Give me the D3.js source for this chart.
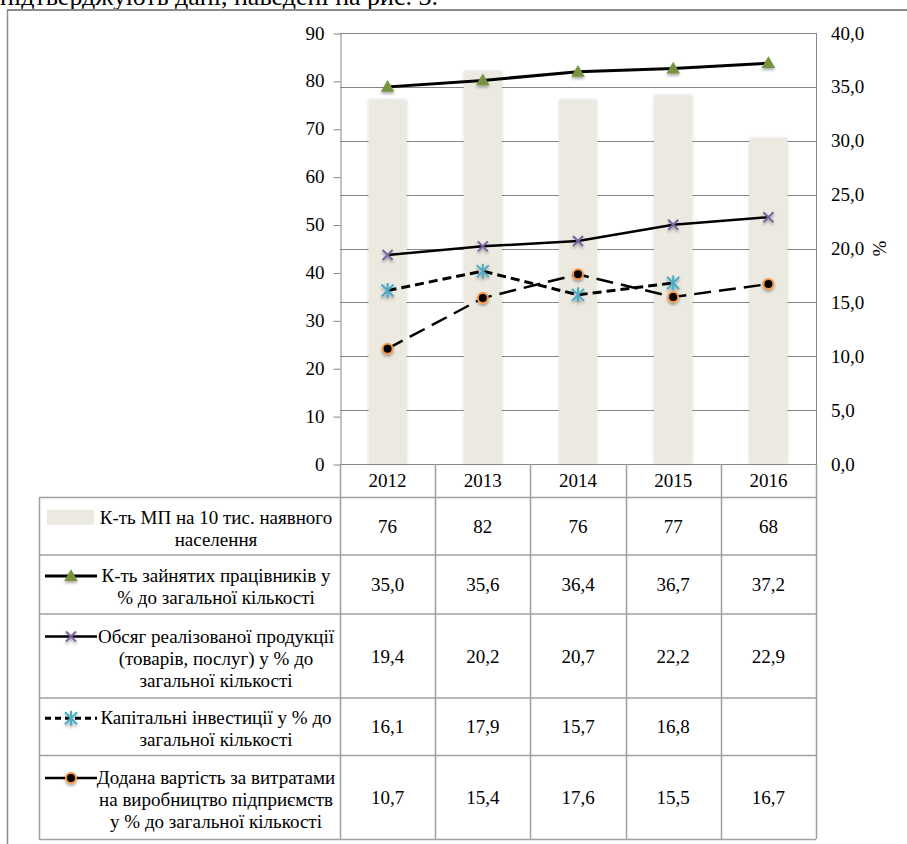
<!DOCTYPE html>
<html>
<head>
<meta charset="utf-8">
<script src="https://cdn.jsdelivr.net/npm/d3@7"></script>
</head>
<body style="margin:0">
<div id="chart"></div>
<script>
// chart values
var years = ["2012", "2013", "2014", "2015", "2016"];
var firms = [76, 82, 76, 77, 68];                       // left axis, bars
var employees = [35.0, 35.6, 36.4, 36.7, 37.2];         // right axis
var sales = [19.4, 20.2, 20.7, 22.2, 22.9];
var capital = [16.1, 17.9, 15.7, 16.8, null];
var addedValue = [10.7, 15.4, 17.6, 15.5, 16.7];
var leftTicks = [0, 10, 20, 30, 40, 50, 60, 70, 80, 90];
var rightTicks = [0, 5, 10, 15, 20, 25, 30, 35, 40];

var labelFirms = ["К-ть МП на 10 тис. наявного", "населення"];
var labelEmployees = ["К-ть зайнятих працівників у", "% до загальної кількості"];
var labelSales = ["Обсяг реалізованої продукції", "(товарів, послуг) у % до", "загальної кількості"];
var labelCapital = ["Капітальні інвестиції у % до", "загальної кількості"];
var labelAdded = ["Додана вартість за витратами", "на виробництво підприємств", "у % до загальної кількості"];

function display() {
    var width = 907,
        height = 844;

    var plotLeft = 340, plotRight = 816, plotTop = 33, plotBottom = 464;
    var tableLeft = 39, tableTop = 497;
    var rowHeights = [57.5, 59, 84, 57.5, 84];

    var svg = d3.select('#chart').append('svg')
        .attr('width', width)
        .attr('height', height)
        .attr('font-family', 'Liberation Serif');

    var defs = svg.append('defs');
    defs.append('filter').attr('id', 'shadow')
        .attr('x', '-50%').attr('y', '-50%').attr('width', '200%').attr('height', '200%')
        .append('feDropShadow')
        .attr('dx', 0).attr('dy', 2).attr('stdDeviation', 1.4)
        .attr('flood-color', '#000').attr('flood-opacity', 0.35);
    defs.append('filter').attr('id', 'barshadow')
        .attr('x', '-20%').attr('y', '-5%').attr('width', '140%').attr('height', '110%')
        .append('feDropShadow')
        .attr('dx', 0).attr('dy', 0).attr('stdDeviation', 1.5)
        .attr('flood-color', '#000').attr('flood-opacity', 0.18);

    // single family name, no text measuring while building
    function txt(sel, size) {
        return sel.attr('font-family', null)
            .style('font-family', '"Liberation Serif"')
            .style('font-size', size + 'px')
            .attr('fill', '#000');
    }

    // text of the page above the figure, cut by the top edge
    txt(svg.append('text')
        .attr('x', 0).attr('y', 5), 26)
        .text('підтверджують дані, наведені на рис. 3.');

    // frame around the figure
    svg.append('line')
        .attr('x1', 7).attr('x2', width).attr('y1', 10).attr('y2', 10)
        .attr('stroke', '#8c8c8c').attr('stroke-width', 2);
    svg.append('line')
        .attr('x1', 7.5).attr('x2', 7.5).attr('y1', 10).attr('y2', height)
        .attr('stroke', '#8c8c8c').attr('stroke-width', 1.5);

    var x = d3.scaleBand().domain(years).range([plotLeft, plotRight]);
    var yLeft = d3.scaleLinear().domain([0, 90]).range([plotBottom, plotTop]);
    var yRight = d3.scaleLinear().domain([0, 40]).range([plotBottom, plotTop]);

    // gridlines follow the right axis
    svg.append('g').selectAll('line.grid')
        .data(rightTicks.filter(function(d) { return d > 0; }))
        .enter().append('line')
        .attr('class', 'grid')
        .attr('x1', plotLeft).attr('x2', plotRight)
        .attr('y1', function(d) { return Math.round(yRight(d)) + 0.5; })
        .attr('y2', function(d) { return Math.round(yRight(d)) + 0.5; })
        .attr('stroke', '#868686').attr('stroke-width', 1);

    // bars
    var barW = x.bandwidth() * 0.4;
    svg.append('g').selectAll('rect.bar')
        .data(firms)
        .enter().append('rect')
        .attr('class', 'bar')
        .attr('x', function(d, i) { return x(years[i]) + (x.bandwidth() - barW) / 2; })
        .attr('y', function(d) { return yLeft(d); })
        .attr('width', barW)
        .attr('height', function(d) { return plotBottom - yLeft(d); })
        .attr('fill', '#ECEAE0')
        .attr('filter', 'url(#barshadow)');

    // plot border right side
    svg.append('line')
        .attr('x1', plotRight + 0.5).attr('x2', plotRight + 0.5)
        .attr('y1', plotTop).attr('y2', plotBottom)
        .attr('stroke', '#868686');

    // left axis
    var axisL = svg.append('g')
        .attr('transform', 'translate(' + (plotLeft + 0.5) + ',0)')
        .call(d3.axisLeft(yLeft).tickValues(leftTicks).tickSize(7).tickSizeOuter(0).tickPadding(9));
    axisL.attr('font-family', 'Liberation Serif').attr('font-size', 19);
    axisL.select('.domain').attr('stroke', '#868686');
    axisL.selectAll('.tick line').attr('stroke', '#868686')
        .attr('transform', 'translate(0,0.5)');
    txt(axisL.selectAll('.tick text'), 19);

    // right axis
    var axisR = svg.append('g')
        .attr('transform', 'translate(' + plotRight + ',0)')
        .call(d3.axisRight(yRight).tickValues(rightTicks).tickSize(0).tickPadding(15)
            .tickFormat(function(d) { return d.toFixed(1).replace('.', ','); }));
    axisR.attr('font-family', 'Liberation Serif').attr('font-size', 19);
    axisR.select('.domain').remove();
    txt(axisR.selectAll('.tick text'), 19);

    txt(svg.append('text')
        .attr('transform', 'translate(886,' + yRight(20) + ') rotate(-90)')
        .attr('text-anchor', 'middle'), 19)
        .text('%');

    // lines
    function cx(i) { return x(years[i]) + x.bandwidth() / 2; }

    var lineGen = d3.line()
        .defined(function(d) { return d != null; })
        .x(function(d, i) { return cx(i); })
        .y(function(d) { return yRight(d); });

    var series = [
        { values: employees, width: 3, dash: null, keyDash: null, marker: 'triangle' },
        { values: sales, width: 2.5, dash: null, keyDash: null, marker: 'cross' },
        { values: capital, width: 3, dash: '9,5', keyDash: '6,4', marker: 'star' },
        { values: addedValue, width: 2.5, dash: '17,8', keyDash: null, marker: 'circle' }
    ];

    function drawMarker(g, type, px, py) {
        if (type === 'triangle') {
            g.append('path')
                .attr('d', d3.symbol().type(d3.symbolTriangle).size(80)())
                .attr('transform', 'translate(' + px + ',' + (py + 1) + ')')
                .attr('fill', '#77933C')
                .attr('filter', 'url(#shadow)');
        } else if (type === 'cross') {
            g.append('path')
                .attr('d', 'M-5,-5L5,5M-5,5L5,-5')
                .attr('transform', 'translate(' + px + ',' + py + ')')
                .attr('stroke', '#7B63A0').attr('stroke-width', 2).attr('fill', 'none')
                .attr('filter', 'url(#shadow)');
        } else if (type === 'star') {
            g.append('path')
                .attr('d', 'M-6,-6L6,6M-6,6L6,-6M0,-7.5L0,7.5')
                .attr('transform', 'translate(' + px + ',' + py + ')')
                .attr('stroke', '#4BACC6').attr('stroke-width', 2).attr('fill', 'none')
                .attr('filter', 'url(#shadow)');
        } else {
            g.append('circle')
                .attr('cx', px).attr('cy', py).attr('r', 5)
                .attr('fill', '#000')
                .attr('stroke', '#F79646').attr('stroke-width', 2)
                .attr('filter', 'url(#shadow)');
        }
    }

    series.forEach(function(s) {
        svg.append('path')
            .datum(s.values)
            .attr('d', lineGen)
            .attr('fill', 'none')
            .attr('stroke', '#000')
            .attr('stroke-width', s.width)
            .attr('stroke-dasharray', s.dash);
    });
    series.forEach(function(s) {
        var g = svg.append('g');
        s.values.forEach(function(v, i) {
            if (v != null) drawMarker(g, s.marker, cx(i), yRight(v));
        });
    });

    // x axis line and category labels
    svg.append('line')
        .attr('x1', plotLeft).attr('x2', plotRight)
        .attr('y1', plotBottom + 0.5).attr('y2', plotBottom + 0.5)
        .attr('stroke', '#868686');
    txt(svg.append('g').selectAll('text.year')
        .data(years)
        .enter().append('text')
        .attr('class', 'year')
        .attr('x', function(d) { return x(d) + x.bandwidth() / 2; })
        .attr('y', 487)
        .attr('text-anchor', 'middle'), 19)
        .text(function(d) { return d; });

    // data table
    function fmt1(v) { return v == null ? '' : v.toFixed(1).replace('.', ','); }

    var rows = [
        { label: labelFirms, values: firms, fmt: function(v) { return v; }, key: 'bar' },
        { label: labelEmployees, values: employees, fmt: fmt1, key: series[0] },
        { label: labelSales, values: sales, fmt: fmt1, key: series[1] },
        { label: labelCapital, values: capital, fmt: fmt1, key: series[2] },
        { label: labelAdded, values: addedValue, fmt: fmt1, key: series[3] }
    ];

    var tableBottom = tableTop + d3.sum(rowHeights);
    var bounds = x.domain().map(function(d) { return x(d); }).concat([plotRight]);

    var tg = svg.append('g');
    bounds.forEach(function(bx) {
        tg.append('line')
            .attr('x1', Math.round(bx) + 0.5).attr('x2', Math.round(bx) + 0.5)
            .attr('y1', plotBottom).attr('y2', tableBottom)
            .attr('stroke', '#a0a0a0').attr('stroke-width', 1.5);
    });
    tg.append('line')
        .attr('x1', tableLeft + 0.5).attr('x2', tableLeft + 0.5)
        .attr('y1', tableTop).attr('y2', tableBottom)
        .attr('stroke', '#a0a0a0').attr('stroke-width', 1.5);

    var rowTop = tableTop;
    rows.forEach(function(r, ri) {
        var h = rowHeights[ri];
        var mid = rowTop + h / 2;

        tg.append('line')
            .attr('x1', tableLeft).attr('x2', plotRight)
            .attr('y1', rowTop + 0.5).attr('y2', rowTop + 0.5)
            .attr('stroke', '#a0a0a0').attr('stroke-width', 1.5);

        var n = r.label.length;
        var lh = 22;
        r.label.forEach(function(line, li) {
            txt(tg.append('text')
                .attr('x', 216)
                .attr('y', mid + 9 + (li - (n - 1) / 2) * lh)
                .attr('text-anchor', 'middle'), 19)
                .text(line);
        });

        // legend key next to the first line
        var ky = mid + 3 - (n - 1) / 2 * lh;
        if (r.key === 'bar') {
            tg.append('rect')
                .attr('x', 47).attr('y', ky - 8)
                .attr('width', 47).attr('height', 15)
                .attr('fill', '#ECEAE0');
        } else {
            tg.append('line')
                .attr('x1', 45).attr('x2', 97)
                .attr('y1', ky).attr('y2', ky)
                .attr('stroke', '#000')
                .attr('stroke-width', r.key.width)
                .attr('stroke-dasharray', r.key.keyDash);
            drawMarker(tg, r.key.marker, 71, ky);
        }

        r.values.forEach(function(v, i) {
            txt(tg.append('text')
                .attr('x', cx(i))
                .attr('y', mid + 7)
                .attr('text-anchor', 'middle'), 19)
                .text(r.fmt(v));
        });

        rowTop += h;
    });
    tg.append('line')
        .attr('x1', tableLeft).attr('x2', plotRight)
        .attr('y1', tableBottom + 0.5).attr('y2', tableBottom + 0.5)
        .attr('stroke', '#a0a0a0').attr('stroke-width', 1.5);
}

display();
</script>
</body>
</html>
